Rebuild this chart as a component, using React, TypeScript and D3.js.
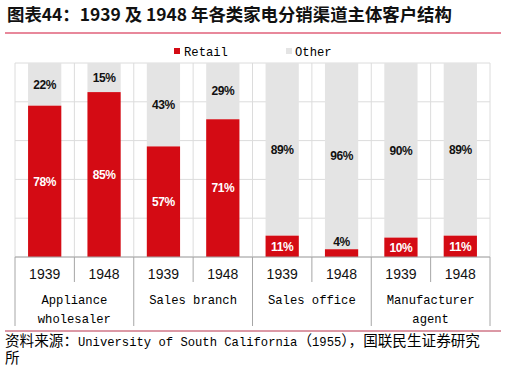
import React from "react";
import * as d3 from "d3";

const groups = [["Appliance", "wholesaler"], ["Sales branch"], ["Sales office"], ["Manufacturer", "agent"]];
const years = ["1939", "1948"];
const retail = [78, 85, 57, 71, 11, 4, 10, 11];
const other = [22, 15, 43, 29, 89, 96, 90, 89];
const yTicks = [0, 20, 40, 60, 80, 100];

const W = 506;
const H = 371;
const RED = "#d40b14";
const GREY = "#e4e4e4";
const GRID = "#dcdcdc";
const AXIS = "#a6a6a6";
const MONO = "'Liberation Mono', 'DejaVu Sans Mono', monospace";
const CJK = "'Noto Sans CJK SC', sans-serif";

// split text into latin / CJK runs so latin gets a mono face like SimHei
function Mixed({ text, x, y, anchor = "start" }: { text: string; x: number; y: number; anchor?: string }) {
  const runs = text.match(/[\x00-\x7F]+|[^\x00-\x7F]+/g) || [];
  return (
    <text x={x} y={y} textAnchor={anchor} fill="#000">
      {runs.map((r, i) =>
        /^[\x00-\x7F]+$/.test(r) ? (
          <tspan key={i} fontFamily={MONO} fontSize={12.2} style={{ whiteSpace: "pre" }}>{r}</tspan>
        ) : (
          <tspan key={i} fontFamily={CJK} fontSize={14.6}>{r}</tspan>
        )
      )}
    </text>
  );
}

export default function App() {
  const left = 15, right = 490, top = 63, bottom = 257;
  const n = retail.length;
  const x = d3.scaleBand<number>().domain(d3.range(n)).range([left, right]).paddingInner(0.44).paddingOuter(0.22);
  const y = d3.scaleLinear().domain([0, 100]).range([bottom, top]);
  const step = x.step();
  const bounds = d3.range(n + 1).map((i) => left + i * step);

  return (
    <svg width={W} height={H} style={{ position: "absolute", left: 0, top: 0, background: "#fff" }}>
      {/* title */}
      <text x={7} y={21} fontFamily={CJK} fontSize={17.4} fontWeight="bold" fill="#111">
        图表44：1939 及 1948 年各类家电分销渠道主体客户结构
      </text>
      <line x1={5} x2={501} y1={33} y2={33} stroke="#e0607a" strokeWidth={1.5} />

      {/* legend */}
      <rect x={174} y={48} width={6} height={6} fill={RED} />
      <Mixed text="Retail" x={184} y={55.5} />
      <rect x={286} y={48} width={6} height={6} fill={GREY} />
      <Mixed text="Other" x={295} y={55.5} />

      {/* grid */}
      {yTicks.map((t) => (
        <line key={"h" + t} x1={left} x2={right} y1={y(t)} y2={y(t)} stroke={GRID} strokeWidth={1} />
      ))}
      {bounds.map((b, i) => (
        <line key={"v" + i} x1={b} x2={b} y1={top} y2={bottom} stroke={GRID} strokeWidth={1} />
      ))}

      {/* bars */}
      {retail.map((r, i) => (
        <g key={"b" + i}>
          <rect x={x(i)} y={y(r + other[i])} width={x.bandwidth()} height={y(r) - y(r + other[i])} fill={GREY} />
          <rect x={x(i)} y={y(r)} width={x.bandwidth()} height={y(0) - y(r)} fill={RED} />
        </g>
      ))}

      {/* labels */}
      {retail.map((r, i) => {
        const cx = (x(i) as number) + x.bandwidth() / 2;
        const small = r < 6;
        return (
          <g key={"l" + i} fontFamily="'Liberation Sans', Arial, sans-serif" fontSize={12} fontWeight="bold" textAnchor="middle" letterSpacing={-0.4}>
            <text x={cx} y={small ? y(r) - 8 : y(r / 2)} dy="0.36em" fill={small ? "#111" : "#fff"}>{r}%</text>
            <text x={cx} y={y(r + other[i] / 2)} dy="0.36em" fill="#111">{other[i]}%</text>
          </g>
        );
      })}

      {/* axis */}
      <line x1={left} x2={right} y1={bottom} y2={bottom} stroke={AXIS} strokeWidth={1} />
      {bounds.map((b, i) => (
        <line key={"t" + i} x1={b} x2={b} y1={bottom} y2={i % 2 === 0 ? 326 : 282} stroke={AXIS} strokeWidth={1} />
      ))}
      {retail.map((_, i) => (
        <text key={"yr" + i} x={(x(i) as number) + x.bandwidth() / 2} y={279} textAnchor="middle"
          fontFamily="'Liberation Sans', Arial, sans-serif" fontSize={14} fill="#111">
          {years[i % 2]}
        </text>
      ))}
      {groups.map((g, gi) => (
        <g key={"g" + gi}>
          {g.map((line, li) => (
            <Mixed key={li} text={line} x={left + (gi * 2 + 1) * step} y={304 + li * 19} anchor="middle" />
          ))}
        </g>
      ))}

      {/* source */}
      <line x1={5} x2={501} y1={331} y2={331} stroke="#b8324c" strokeWidth={1} />
      <Mixed text="资料来源：University of South California（1955），国联民生证券研究" x={5} y={346} />
      <Mixed text="所" x={5} y={363} />
    </svg>
  );
}
